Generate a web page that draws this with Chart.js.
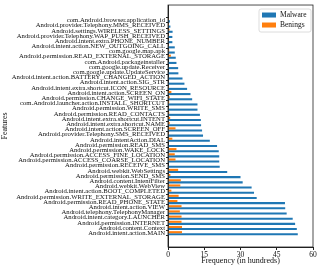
<!DOCTYPE html>
<html>
<head>
<meta charset="utf-8">
<script src="https://cdn.jsdelivr.net/npm/chart.js@4.4.1/dist/chart.umd.min.js"></script>
<style>
  html, body { margin: 0; padding: 0; background: #fff; }
  #wrap { width: 318px; height: 266px; }
</style>
</head>
<body>
<div id="wrap"><canvas id="featureChart" width="318" height="266"></canvas></div>
<script>
const features = [
  'com.Android.browser.application_id',
  'Android.provider.Telephony.MMS_RECEIVED',
  'Android.settings.WIRELESS_SETTINGS',
  'Android.provider.Telephony.WAP_PUSH_RECEIVED',
  'Android.intent.extra.PHONE_NUMBER',
  'Android.intent.action.NEW_OUTGOING_CALL',
  'com.google.map.apk',
  'Android.permission.READ_EXTERNAL_STORAGE',
  'com.Android.packageinstaller',
  'com.google.update.Receiver',
  'com.google.update.UpdateService',
  'Android.intent.action.BATTERY_CHANGED_ACTION',
  'Android.intent.action.SIG_STR',
  'Android.intent.extra.shortcut.ICON_RESOURCE',
  'Android.intent.action.SCREEN_ON',
  'Android.permission.CHANGE_WIFI_STATE',
  'com.Android.launcher.action.INSTALL_SHORTCUT',
  'Android.permission.WRITE_SMS',
  'Android.permission.READ_CONTACTS',
  'Android.intent.extra.shortcut.INTENT',
  'Android.intent.extra.shortcut.NAME',
  'Android.intent.action.SCREEN_OFF',
  'Android.provider.Telephony.SMS_RECEIVED',
  'Android.intentAction.DIAL',
  'Android.permission.READ_SMS',
  'Android.permission.WAKE_LOCK',
  'Android.permission.ACCESS_FINE_LOCATION',
  'Android.permission.ACCESS_COARSE_LOCATION',
  'Android.permission.RECEIVE_SMS',
  'Android.webkit.WebSettings',
  'Android.permission.SEND_SMS',
  'Android.content.IntentFilter',
  'Android.webkit.WebView',
  'Android.intent.action.BOOT_COMPLETED',
  'Android.permission.WRITE_EXTERNAL_STORAGE',
  'Android.permission.READ_PHONE_STATE',
  'Android.intent.action.VIEW',
  'Android.telephony.TelephonyManager',
  'Android.intent.category.LAUNCHER',
  'Android.permission.INTERNET',
  'Android.content.Context',
  'Android.intent.action.MAIN'
];

// frequency in hundreds
const malware = [
  0.8, 1.0, 1.9, 1.8, 1.8, 2.8, 2.8, 3.2, 3.5, 4.2,
  4.3, 6.0, 6.8, 7.9, 9.3, 10.0, 12.2, 12.2, 13.2, 13.6,
  13.7, 14.1, 14.5, 17.3, 20.3, 21.0, 21.2, 21.2, 21.4, 24.5,
  30.0, 30.9, 34.6, 35.6, 36.7, 48.4, 48.5, 49.1, 51.6, 52.6,
  53.3, 53.7
];
const benign = [
  0.3, 0.4, 0.6, 0.3, 0.3, 0.3, 0.5, 1.2, 0.2, 0.2,
  0.2, 0.2, 0.2, 0.4, 1.4, 0.7, 0.5, 0.3, 0.5, 0.9,
  0.7, 3.1, 0.4, 1.8, 0.2, 3.5, 2.8, 3.1, 0.2, 4.2,
  1.0, 5.3, 5.1, 1.4, 4.4, 3.9, 5.6, 4.9, 5.6, 5.6,
  5.8, 5.8
];
const xTicks = [0, 15, 30, 45, 60];

const seriesNames = ['Malware', 'Benings'];
const blue = '#1f77b4';
const orange = '#ff7f0e';

Chart.defaults.font.family = "'Liberation Serif', 'Times New Roman', serif";
Chart.defaults.color = '#111';

// box around the plot and the legend in the upper right, matplotlib style
const framePlugin = {
  id: 'frame',
  afterDraw(chart) {
    const { ctx, chartArea: a } = chart;
    ctx.save();
    ctx.strokeStyle = '#222';
    ctx.lineWidth = 0.8;
    ctx.strokeRect(a.left, a.top, a.right - a.left, a.bottom - a.top);

    const bx = a.right - 54, by = a.top + 4, bw = 52, bh = 23;
    ctx.fillStyle = 'rgba(255,255,255,0.85)';
    ctx.strokeStyle = '#d4d4d4';
    ctx.lineWidth = 0.8;
    ctx.beginPath();
    ctx.roundRect(bx, by, bw, bh, 2);
    ctx.fill();
    ctx.stroke();

    const colors = [blue, orange];
    ctx.font = "7.5px 'Liberation Serif', serif";
    ctx.textBaseline = 'middle';
    seriesNames.forEach((name, i) => {
      const y = by + 6 + i * 10;
      ctx.fillStyle = colors[i];
      ctx.fillRect(bx + 3, y - 2.5, 14, 5);
      ctx.fillStyle = '#111';
      ctx.fillText(name, bx + 21, y + 0.5);
    });
    ctx.restore();
  }
};

const ctx = document.getElementById('featureChart').getContext('2d');
new Chart(ctx, {
  type: 'bar',
  data: {
    datasets: [
      {
        label: 'Benings',
        data: benign.map((v, i) => ({ x: v, y: i })),
        backgroundColor: orange,
        borderWidth: 0
      },
      {
        label: 'Malware',
        data: malware.map((v, i) => ({ x: v, y: i })),
        backgroundColor: blue,
        borderWidth: 0
      }
    ]
  },
  options: {
    indexAxis: 'y',
    responsive: false,
    animation: false,
    layout: { padding: { top: 2, right: 5, left: 0, bottom: 0 } },
    datasets: { bar: { categoryPercentage: 0.8, barPercentage: 1.0 } },
    plugins: {
      legend: { display: false },
      tooltip: { enabled: false }
    },
    scales: {
      x: {
        type: 'linear',
        min: 0,
        max: 60,
        afterBuildTicks: (axis) => { axis.ticks = xTicks.map(v => ({ value: v })); },
        ticks: { font: { size: 7.5 }, padding: 1, maxRotation: 0 },
        grid: { drawOnChartArea: false, drawTicks: true, tickLength: 3, color: '#222' },
        border: { display: true, color: '#222' },
        title: { display: true, text: 'Frequency (in hundreds)', font: { size: 8 }, padding: { top: 0, bottom: 0 } },
        afterFit: (scale) => { scale.height = 19; }
      },
      y: {
        type: 'linear',
        reverse: true,
        min: -2.4,
        max: 43.1,
        afterBuildTicks: (axis) => { axis.ticks = features.map((_, i) => ({ value: i })); },
        ticks: {
          autoSkip: false,
          font: { size: 6.7 },
          padding: 1,
          callback: (v) => features[v]
        },
        grid: { drawOnChartArea: false, drawTicks: true, tickLength: 2, color: '#222' },
        border: { display: true, color: '#222' },
        title: { display: true, text: 'Features', font: { size: 8 }, padding: { top: 0, bottom: 0 } },
        afterFit: (scale) => { scale.width = 168; }
      }
    }
  },
  plugins: [framePlugin]
});
</script>
</body>
</html>
